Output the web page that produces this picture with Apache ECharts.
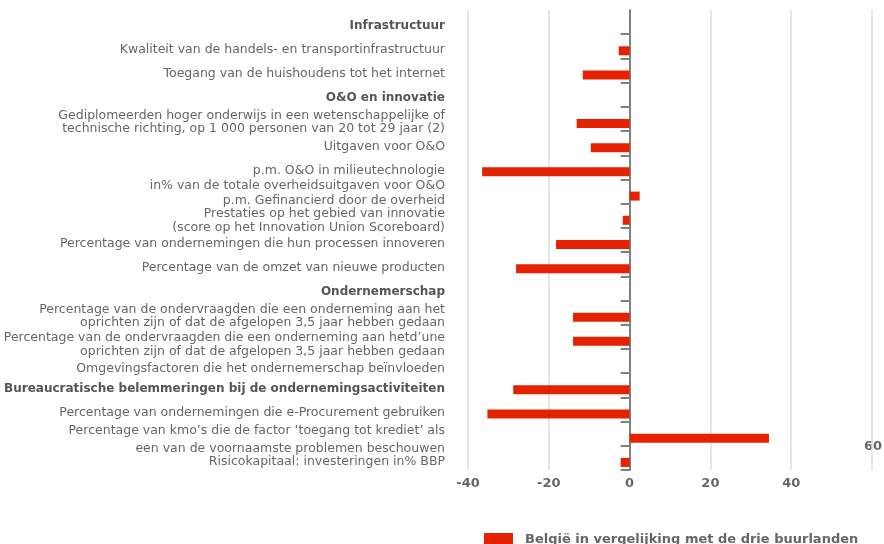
<!DOCTYPE html>
<html>
<head>
<meta charset="utf-8">
<style>
  html, body { margin: 0; padding: 0; background: #fff; }
  #chart { width: 884px; height: 544px; }
</style>
<script src="https://cdn.jsdelivr.net/npm/echarts@6/dist/echarts.min.js"></script>
</head>
<body>
<div id="chart"></div>
<script>
// Indicator labels, top to bottom
const categories = [
  'Infrastructuur',
  'Kwaliteit van de handels- en transportinfrastructuur',
  'Toegang van de huishoudens tot het internet',
  'O&O en innovatie',
  'Gediplomeerden hoger onderwijs in een wetenschappelijke of\ntechnische richting, op 1 000 personen van 20 tot 29 jaar (2)',
  'Uitgaven voor O&O',
  'p.m. O&O in milieutechnologie',
  'in% van de totale overheidsuitgaven voor O&O\np.m. Gefinancierd door de overheid',
  'Prestaties op het gebied van innovatie\n(score op het Innovation Union Scoreboard)',
  'Percentage van ondernemingen die hun processen innoveren',
  'Percentage van de omzet van nieuwe producten',
  'Ondernemerschap',
  'Percentage van de ondervraagden die een onderneming aan het\noprichten zijn of dat de afgelopen 3,5 jaar hebben gedaan',
  'Percentage van de ondervraagden die een onderneming aan hetd\u2019une\noprichten zijn of dat de afgelopen 3,5 jaar hebben gedaan',
  'Omgevingsfactoren die het ondernemerschap be\u00efnvloeden',
  'Bureaucratische belemmeringen bij de ondernemingsactiviteiten',
  'Percentage van ondernemingen die e-Procurement gebruiken',
  'Percentage van kmo\u2019s die de factor \u2018toegang tot krediet\u2019 als\neen van de voornaamste problemen beschouwen',
  'Risicokapitaal: investeringen in% BBP'
];

// Section headings (drawn in bold)
const headings = [
  'Infrastructuur',
  'O&O en innovatie',
  'Ondernemerschap',
  'Bureaucratische belemmeringen bij de ondernemingsactiviteiten'
];

// Gap between Belgium and the three neighbouring countries
const seriesName = 'Belgi\u00eb in vergelijking met de drie buurlanden';
const values = [null, -2.7, -11.6, null, -13.1, -9.6, -36.5, 2.5, -1.7, -18.2, -28.1,
                null, -14.0, -14.0, null, -28.8, -35.2, 34.5, -2.2];

const xTicks = [-40, -20, 0, 20, 40, 60];

const chart = echarts.init(document.getElementById('chart'), null, { renderer: 'canvas' });

const labelFont = '"DejaVu Sans", "Liberation Sans", sans-serif';
const labelSize = 12.5;

// Per-label line heights [first line, second line] for the two-line labels
const lineHeights = { 7: [11, 19], 8: [16, 12], 13: [22, 6], 17: [24, 12] };

const rich = {
  h: { fontWeight: 'bold', color: '#555', fontSize: 12, fontFamily: labelFont },
  low: { color: '#666', fontSize: labelSize, fontFamily: labelFont, padding: [9, 0, 0, 0] }
};
Object.keys(lineHeights).forEach(k => {
  rich['a' + k] = { lineHeight: lineHeights[k][0], color: '#666', fontSize: labelSize, fontFamily: labelFont };
  rich['b' + k] = { lineHeight: lineHeights[k][1], color: '#666', fontSize: labelSize, fontFamily: labelFont };
});

chart.setOption({
  animation: false,
  backgroundColor: '#ffffff',
  textStyle: { fontFamily: labelFont },
  grid: { left: 468, right: 12, top: 10, bottom: 74, containLabel: false, outerBoundsMode: 'none' },
  legend: {
    data: [seriesName],
    left: 484,
    top: 533,
    padding: 0,
    itemWidth: 29,
    itemHeight: 14,
    icon: 'rect',
    textStyle: { color: '#666', fontSize: 13, fontWeight: 'bold', fontFamily: labelFont, padding: [0, 0, 0, 7] }
  },
  xAxis: {
    type: 'value',
    min: xTicks[0],
    max: xTicks[xTicks.length - 1],
    interval: 20,
    axisLine: { show: false },
    axisTick: { show: false },
    splitLine: { show: true, lineStyle: { color: '#dcdcdc', width: 1.5 } },
    axisLabel: {
      color: '#666',
      fontSize: 13,
      fontWeight: 'bold',
      margin: 7,
      formatter: v => (v === 60 ? '' : String(v))
    }
  },
  yAxis: {
    type: 'category',
    inverse: true,
    data: categories,
    axisLine: { show: true, onZero: true, lineStyle: { color: '#808080', width: 2 } },
    axisTick: {
      show: true,
      length: 9,
      lineStyle: { color: '#808080', width: 2 },
      interval: (i) => i !== 0
    },
    splitLine: { show: false },
    axisLabel: {
      interval: 0,
      hideOverlap: false,
      margin: 23,
      color: '#666',
      fontSize: labelSize,
      lineHeight: 13,
      padding: [7, 0, 0, 0],
      formatter: (v, i) => {
        if (headings.indexOf(v) >= 0) return '{h|' + v + '}';
        if (i === 14) return '{low|' + v + '}';
        if (lineHeights[i]) {
          const parts = v.split('\n');
          return '{a' + i + '|' + parts[0] + '}\n{b' + i + '|' + parts[1] + '}';
        }
        return v;
      },
      rich: rich
    }
  },
  graphic: [{
    type: 'text',
    right: 2,
    top: 440,
    style: { text: '60', fill: '#666', font: 'bold 13px ' + labelFont }
  }],
  series: [
    {
      name: 'spacer',
      type: 'bar',
      data: categories.map(() => null),
      barWidth: 9,
      barGap: '0%',
      silent: true
    },
    {
      name: seriesName,
      type: 'bar',
      data: values,
      barWidth: 9,
      barGap: '0%',
      itemStyle: { color: '#e52200' }
    }
  ]
});
</script>
</body>
</html>
